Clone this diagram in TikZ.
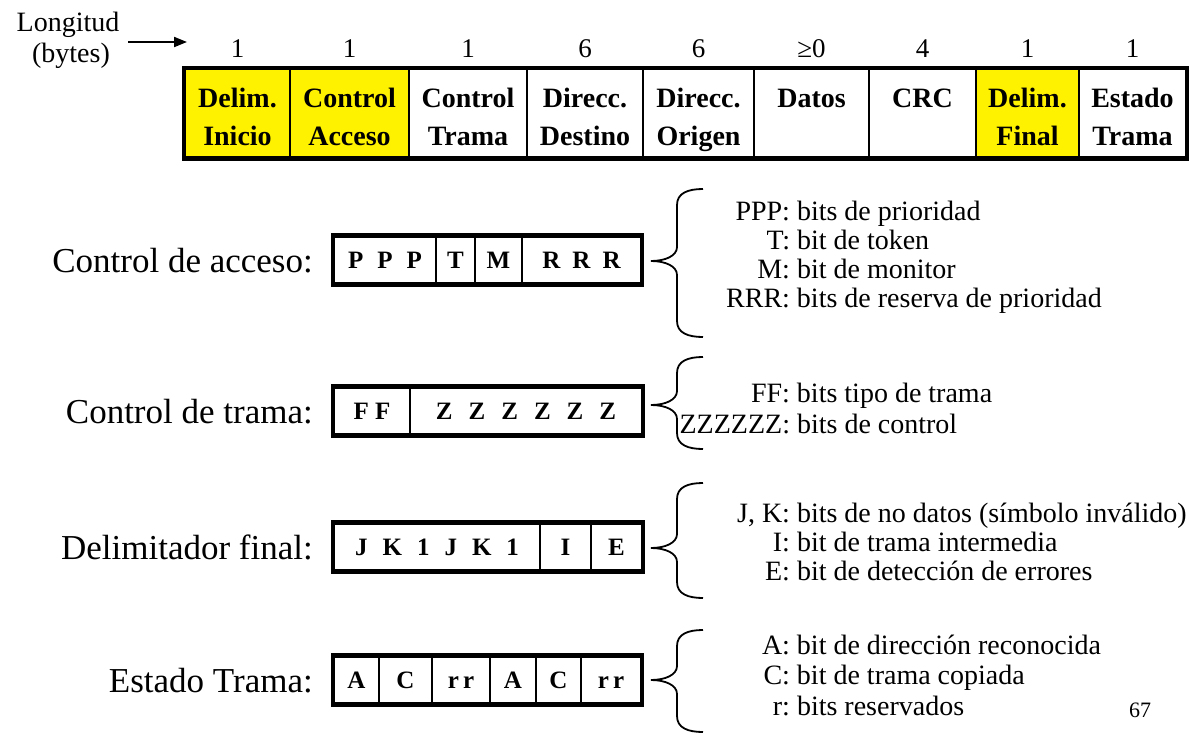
\documentclass[tikz,border=0pt]{standalone}
\usepackage{fontspec}
\setmainfont{Liberation Serif}
\usetikzlibrary{arrows.meta}
\newcommand\tcell[6]{\node[topcell,#4,minimum width={(#3-#2)*1pt},minimum height=88pt] (#1) at ({(#2+#3)/2},113) {};
  \node[toptext] (#1a) at ({(#2+#3)/2},107) {#5};
  \node[toptext] (#1b) at ({(#2+#3)/2},145) {#6};}
\newcommand\bcell[5]{\node[bitcell,minimum width={(#3-#2)*1pt},minimum height=47pt] (#1) at ({(#2+#3)/2},#4) {#5};}
\newcommand\mybrace[3]{\draw[bracel] (703,#2) .. controls (688,#2) and (677,{#2+4}) .. (677,{#2+16}) -- (677,{#1-14}) .. controls (677,{#1-5}) and (665,#1) .. (651,#1) .. controls (665,#1) and (677,{#1+5}) .. (677,{#1+14}) -- (677,{#3-16}) .. controls (677,{#3-4}) and (688,#3) .. (703,#3);}
\begin{document}
\begin{tikzpicture}[x=1pt,y=-1pt,
  topcell/.style={draw, line width=2.5pt, inner sep=0pt},
  toptext/.style={anchor=base, inner sep=0pt, font=\fontsize{28}{30}\selectfont\bfseries},
  yel/.style={fill=yellow},
  plain/.style={},
  bitcell/.style={draw, line width=2pt, inner sep=0pt, font=\fontsize{25}{28}\selectfont\bfseries, text height=17pt, text depth=0pt},
  rowlabel/.style={anchor=base east, inner sep=0pt, font=\fontsize{35}{40}\selectfont},
  desc/.style={anchor=base, inner sep=0pt, font=\fontsize{28}{32}\selectfont},
  number/.style={anchor=base, inner sep=0pt, font=\fontsize{27}{30}\selectfont},
  bracel/.style={line width=1.8pt},
  outer/.style={line width=4.5pt}]
\useasboundingbox (0,0) rectangle (1189,734);
% header
\node[anchor=base, inner sep=0pt, font=\fontsize{28}{30}\selectfont] (lon) at (68,31) {Longitud};
\node[anchor=base, inner sep=0pt, font=\fontsize{28}{30}\selectfont] (byt) at (71,62) {(bytes)};
\coordinate (arrS) at (128,42);
\coordinate (arrE) at (187,42);
\draw[line width=2pt, -{Triangle[length=13pt,width=10pt]}] (arrS) -- (arrE);
% top frame
\tcell{c1}{185}{290}{yel}{Delim.}{Inicio}
\tcell{c2}{290}{409}{yel}{Control}{Acceso}
\tcell{c3}{409}{527}{plain}{Control}{Trama}
\tcell{c4}{527}{643}{plain}{Direcc.}{Destino}
\tcell{c5}{643}{754}{plain}{Direcc.}{Origen}
\tcell{c6}{754}{869}{plain}{Datos}{}
\tcell{c7}{869}{976}{plain}{CRC}{}
\tcell{c8}{976}{1079}{yel}{Delim.}{Final}
\tcell{c9}{1079}{1186}{plain}{Estado}{Trama}
\draw[outer] (c1.north west) rectangle (c9.south east);
% lengths
\foreach \c/\t in {c1/1,c2/1,c3/1,c4/6,c5/6,c6/{≥0},c7/4,c8/1,c9/1}
  \node[number] (n\c) at (\c.center |- 0,57) {\t};
% control de acceso
\node[rowlabel] (la) at (313,272) {Control de acceso:};
\bcell{a1}{334}{436}{260}{P\hspace{14pt}P\hspace{14pt}P}
\bcell{a2}{436}{475}{260}{T}
\bcell{a3}{475}{522}{260}{M}
\bcell{a4}{522}{641}{260}{R\hspace{12pt}R\hspace{12pt}R}
\draw[outer] (a1.north west) rectangle (a4.south east);
\mybrace{261}{189}{337}
\node[desc] (da1) at (790,220) {\llap{PPP:}\rlap{ bits de prioridad}};
\node[desc] (da2) at (790,249) {\llap{T:}\rlap{ bit de token}};
\node[desc] (da3) at (790,278) {\llap{M:}\rlap{ bit de monitor}};
\node[desc] (da4) at (790,307) {\llap{RRR:}\rlap{ bits de reserva de prioridad}};
% control de trama
\node[rowlabel] (lt) at (313,423) {Control de trama:};
\bcell{t1}{334}{410}{411}{F\hspace{6pt}F}
\bcell{t2}{410}{642}{411}{Z\hspace{16pt}Z\hspace{16pt}Z\hspace{16pt}Z\hspace{16pt}Z\hspace{16pt}Z}
\draw[outer] (t1.north west) rectangle (t2.south east);
\mybrace{405}{357}{449}
\node[desc] (dt1) at (790,402) {\llap{FF:}\rlap{ bits tipo de trama}};
\node[desc] (dt2) at (790,433) {\llap{ZZZZZZ:}\rlap{ bits de control}};
% delimitador final
\node[rowlabel] (ld) at (313,559) {Delimitador final:};
\bcell{d1}{334}{540}{547}{J\hspace{15pt}K\hspace{15pt}1\hspace{15pt}J\hspace{15pt}K\hspace{15pt}1}
\bcell{d2}{540}{591}{547}{I}
\bcell{d3}{591}{642}{547}{E}
\draw[outer] (d1.north west) rectangle (d3.south east);
\mybrace{548}{483}{598}
\node[desc] (dd1) at (790,522) {\llap{J, K:}\rlap{ bits de no datos (símbolo inválido)}};
\node[desc] (dd2) at (790,551) {\llap{I:}\rlap{ bit de trama intermedia}};
\node[desc] (dd3) at (790,580) {\llap{E:}\rlap{ bit de detección de errores}};
% estado trama
\node[rowlabel] (le) at (313,692) {Estado Trama:};
\bcell{e1}{334}{379}{680}{A}
\bcell{e2}{379}{432}{680}{C}
\bcell{e3}{432}{490}{680}{r\hspace{4pt}r}
\bcell{e4}{490}{536}{680}{A}
\bcell{e5}{536}{581}{680}{C}
\bcell{e6}{581}{641}{680}{r\hspace{4pt}r}
\draw[outer] (e1.north west) rectangle (e6.south east);
\mybrace{680}{630}{732}
\node[desc] (de1) at (790,654) {\llap{A:}\rlap{ bit de dirección reconocida}};
\node[desc] (de2) at (790,684) {\llap{C:}\rlap{ bit de trama copiada}};
\node[desc] (de3) at (790,715) {\llap{r:}\rlap{ bits reservados}};
\node[anchor=base, inner sep=0pt, font=\fontsize{22}{24}\selectfont] (pg) at (1140,717) {67};
\end{tikzpicture}
\end{document}
